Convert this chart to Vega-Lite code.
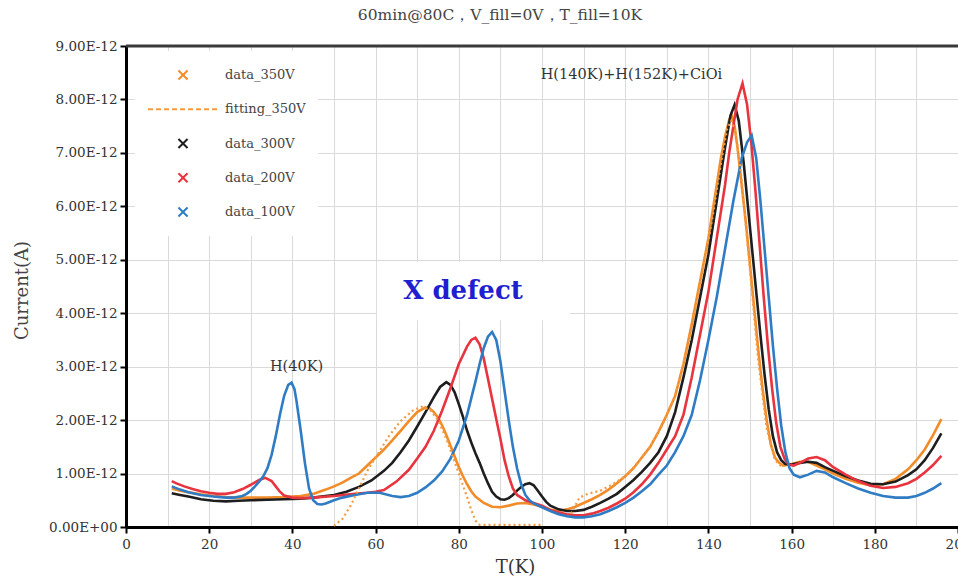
{
  "$schema": "https://vega.github.io/schema/vega-lite/v6.json",
  "width": 832,
  "height": 481,
  "autosize": {"type": "none"},
  "padding": {"left": 126, "top": 46, "right": 0, "bottom": 50},
  "background": "white",
  "title": {
    "text": "60min@80C，V_fill=0V，T_fill=10K",
    "font": "DejaVu Serif",
    "fontSize": 15.5,
    "fontWeight": "normal",
    "color": "#444444",
    "anchor": "middle",
    "frame": "group",
    "dx": -42,
    "offset": 4,
    "baseline": "alphabetic"
  },
  "config": {"view": {"stroke": null}, "font": "DejaVu Serif"},
  "datasets": {
    "curves": [
      {"series": "data_350V", "T": 11, "I": 0.72e-12},
      {"series": "data_350V", "T": 13, "I": 0.68e-12},
      {"series": "data_350V", "T": 15, "I": 0.65e-12},
      {"series": "data_350V", "T": 18, "I": 0.61e-12},
      {"series": "data_350V", "T": 21, "I": 0.58e-12},
      {"series": "data_350V", "T": 24, "I": 0.56e-12},
      {"series": "data_350V", "T": 27, "I": 0.55e-12},
      {"series": "data_350V", "T": 30, "I": 0.55e-12},
      {"series": "data_350V", "T": 34, "I": 0.55e-12},
      {"series": "data_350V", "T": 38, "I": 0.56e-12},
      {"series": "data_350V", "T": 42, "I": 0.58e-12},
      {"series": "data_350V", "T": 45, "I": 0.62e-12},
      {"series": "data_350V", "T": 48, "I": 0.7e-12},
      {"series": "data_350V", "T": 50, "I": 0.76e-12},
      {"series": "data_350V", "T": 52, "I": 0.83e-12},
      {"series": "data_350V", "T": 54, "I": 0.92e-12},
      {"series": "data_350V", "T": 56, "I": 1.0e-12},
      {"series": "data_350V", "T": 58, "I": 1.15e-12},
      {"series": "data_350V", "T": 60, "I": 1.3e-12},
      {"series": "data_350V", "T": 62, "I": 1.45e-12},
      {"series": "data_350V", "T": 64, "I": 1.62e-12},
      {"series": "data_350V", "T": 66, "I": 1.8e-12},
      {"series": "data_350V", "T": 68, "I": 1.98e-12},
      {"series": "data_350V", "T": 70, "I": 2.15e-12},
      {"series": "data_350V", "T": 72, "I": 2.24e-12},
      {"series": "data_350V", "T": 73, "I": 2.22e-12},
      {"series": "data_350V", "T": 74, "I": 2.15e-12},
      {"series": "data_350V", "T": 75, "I": 2.05e-12},
      {"series": "data_350V", "T": 76, "I": 1.9e-12},
      {"series": "data_350V", "T": 77, "I": 1.72e-12},
      {"series": "data_350V", "T": 78, "I": 1.52e-12},
      {"series": "data_350V", "T": 79, "I": 1.32e-12},
      {"series": "data_350V", "T": 80, "I": 1.12e-12},
      {"series": "data_350V", "T": 81, "I": 0.95e-12},
      {"series": "data_350V", "T": 82, "I": 0.8e-12},
      {"series": "data_350V", "T": 83, "I": 0.67e-12},
      {"series": "data_350V", "T": 84, "I": 0.57e-12},
      {"series": "data_350V", "T": 86, "I": 0.45e-12},
      {"series": "data_350V", "T": 88, "I": 0.38e-12},
      {"series": "data_350V", "T": 90, "I": 0.37e-12},
      {"series": "data_350V", "T": 92, "I": 0.4e-12},
      {"series": "data_350V", "T": 94, "I": 0.44e-12},
      {"series": "data_350V", "T": 96, "I": 0.45e-12},
      {"series": "data_350V", "T": 98, "I": 0.42e-12},
      {"series": "data_350V", "T": 100, "I": 0.38e-12},
      {"series": "data_350V", "T": 102, "I": 0.32e-12},
      {"series": "data_350V", "T": 104, "I": 0.3e-12},
      {"series": "data_350V", "T": 106, "I": 0.33e-12},
      {"series": "data_350V", "T": 108, "I": 0.38e-12},
      {"series": "data_350V", "T": 110, "I": 0.45e-12},
      {"series": "data_350V", "T": 112, "I": 0.52e-12},
      {"series": "data_350V", "T": 114, "I": 0.6e-12},
      {"series": "data_350V", "T": 116, "I": 0.7e-12},
      {"series": "data_350V", "T": 118, "I": 0.82e-12},
      {"series": "data_350V", "T": 120, "I": 0.95e-12},
      {"series": "data_350V", "T": 122, "I": 1.1e-12},
      {"series": "data_350V", "T": 124, "I": 1.3e-12},
      {"series": "data_350V", "T": 126, "I": 1.5e-12},
      {"series": "data_350V", "T": 128, "I": 1.78e-12},
      {"series": "data_350V", "T": 130, "I": 2.1e-12},
      {"series": "data_350V", "T": 132, "I": 2.45e-12},
      {"series": "data_350V", "T": 134, "I": 3.05e-12},
      {"series": "data_350V", "T": 136, "I": 3.8e-12},
      {"series": "data_350V", "T": 138, "I": 4.6e-12},
      {"series": "data_350V", "T": 140, "I": 5.4e-12},
      {"series": "data_350V", "T": 142, "I": 6.4e-12},
      {"series": "data_350V", "T": 143, "I": 6.9e-12},
      {"series": "data_350V", "T": 144, "I": 7.3e-12},
      {"series": "data_350V", "T": 145, "I": 7.62e-12},
      {"series": "data_350V", "T": 145.6, "I": 7.7e-12},
      {"series": "data_350V", "T": 146.3, "I": 7.5e-12},
      {"series": "data_350V", "T": 147, "I": 7.1e-12},
      {"series": "data_350V", "T": 148, "I": 6.4e-12},
      {"series": "data_350V", "T": 149, "I": 5.7e-12},
      {"series": "data_350V", "T": 150, "I": 4.9e-12},
      {"series": "data_350V", "T": 151, "I": 4.1e-12},
      {"series": "data_350V", "T": 152, "I": 3.3e-12},
      {"series": "data_350V", "T": 153, "I": 2.6e-12},
      {"series": "data_350V", "T": 154, "I": 2.0e-12},
      {"series": "data_350V", "T": 155, "I": 1.55e-12},
      {"series": "data_350V", "T": 156, "I": 1.3e-12},
      {"series": "data_350V", "T": 157, "I": 1.2e-12},
      {"series": "data_350V", "T": 158, "I": 1.15e-12},
      {"series": "data_350V", "T": 160, "I": 1.18e-12},
      {"series": "data_350V", "T": 162, "I": 1.22e-12},
      {"series": "data_350V", "T": 164, "I": 1.22e-12},
      {"series": "data_350V", "T": 166, "I": 1.15e-12},
      {"series": "data_350V", "T": 168, "I": 1.08e-12},
      {"series": "data_350V", "T": 170, "I": 1.0e-12},
      {"series": "data_350V", "T": 173, "I": 0.9e-12},
      {"series": "data_350V", "T": 176, "I": 0.83e-12},
      {"series": "data_350V", "T": 179, "I": 0.78e-12},
      {"series": "data_350V", "T": 182, "I": 0.8e-12},
      {"series": "data_350V", "T": 185, "I": 0.9e-12},
      {"series": "data_350V", "T": 188, "I": 1.08e-12},
      {"series": "data_350V", "T": 190, "I": 1.25e-12},
      {"series": "data_350V", "T": 192, "I": 1.45e-12},
      {"series": "data_350V", "T": 194, "I": 1.72e-12},
      {"series": "data_350V", "T": 196, "I": 2.02e-12},

      {"series": "data_300V", "T": 11, "I": 0.63e-12},
      {"series": "data_300V", "T": 13, "I": 0.6e-12},
      {"series": "data_300V", "T": 15, "I": 0.57e-12},
      {"series": "data_300V", "T": 18, "I": 0.52e-12},
      {"series": "data_300V", "T": 21, "I": 0.49e-12},
      {"series": "data_300V", "T": 24, "I": 0.48e-12},
      {"series": "data_300V", "T": 27, "I": 0.49e-12},
      {"series": "data_300V", "T": 30, "I": 0.5e-12},
      {"series": "data_300V", "T": 34, "I": 0.51e-12},
      {"series": "data_300V", "T": 38, "I": 0.52e-12},
      {"series": "data_300V", "T": 42, "I": 0.53e-12},
      {"series": "data_300V", "T": 45, "I": 0.55e-12},
      {"series": "data_300V", "T": 48, "I": 0.58e-12},
      {"series": "data_300V", "T": 50, "I": 0.6e-12},
      {"series": "data_300V", "T": 53, "I": 0.66e-12},
      {"series": "data_300V", "T": 56, "I": 0.75e-12},
      {"series": "data_300V", "T": 59, "I": 0.87e-12},
      {"series": "data_300V", "T": 62, "I": 1.05e-12},
      {"series": "data_300V", "T": 64, "I": 1.2e-12},
      {"series": "data_300V", "T": 66, "I": 1.4e-12},
      {"series": "data_300V", "T": 68, "I": 1.62e-12},
      {"series": "data_300V", "T": 70, "I": 1.88e-12},
      {"series": "data_300V", "T": 72, "I": 2.15e-12},
      {"series": "data_300V", "T": 74, "I": 2.43e-12},
      {"series": "data_300V", "T": 75.5, "I": 2.62e-12},
      {"series": "data_300V", "T": 77, "I": 2.71e-12},
      {"series": "data_300V", "T": 78, "I": 2.66e-12},
      {"series": "data_300V", "T": 79, "I": 2.52e-12},
      {"series": "data_300V", "T": 80, "I": 2.3e-12},
      {"series": "data_300V", "T": 81, "I": 2.06e-12},
      {"series": "data_300V", "T": 82, "I": 1.8e-12},
      {"series": "data_300V", "T": 83, "I": 1.58e-12},
      {"series": "data_300V", "T": 84, "I": 1.38e-12},
      {"series": "data_300V", "T": 85, "I": 1.2e-12},
      {"series": "data_300V", "T": 86, "I": 1.0e-12},
      {"series": "data_300V", "T": 87, "I": 0.82e-12},
      {"series": "data_300V", "T": 88, "I": 0.66e-12},
      {"series": "data_300V", "T": 89, "I": 0.57e-12},
      {"series": "data_300V", "T": 90, "I": 0.52e-12},
      {"series": "data_300V", "T": 91, "I": 0.51e-12},
      {"series": "data_300V", "T": 92, "I": 0.54e-12},
      {"series": "data_300V", "T": 93, "I": 0.6e-12},
      {"series": "data_300V", "T": 94, "I": 0.68e-12},
      {"series": "data_300V", "T": 95, "I": 0.75e-12},
      {"series": "data_300V", "T": 96, "I": 0.8e-12},
      {"series": "data_300V", "T": 97, "I": 0.82e-12},
      {"series": "data_300V", "T": 98, "I": 0.78e-12},
      {"series": "data_300V", "T": 99, "I": 0.68e-12},
      {"series": "data_300V", "T": 100, "I": 0.57e-12},
      {"series": "data_300V", "T": 101, "I": 0.47e-12},
      {"series": "data_300V", "T": 102, "I": 0.4e-12},
      {"series": "data_300V", "T": 104, "I": 0.33e-12},
      {"series": "data_300V", "T": 106, "I": 0.3e-12},
      {"series": "data_300V", "T": 108, "I": 0.3e-12},
      {"series": "data_300V", "T": 110, "I": 0.32e-12},
      {"series": "data_300V", "T": 112, "I": 0.38e-12},
      {"series": "data_300V", "T": 114, "I": 0.45e-12},
      {"series": "data_300V", "T": 116, "I": 0.53e-12},
      {"series": "data_300V", "T": 118, "I": 0.62e-12},
      {"series": "data_300V", "T": 120, "I": 0.75e-12},
      {"series": "data_300V", "T": 122, "I": 0.88e-12},
      {"series": "data_300V", "T": 124, "I": 1.03e-12},
      {"series": "data_300V", "T": 126, "I": 1.2e-12},
      {"series": "data_300V", "T": 128, "I": 1.4e-12},
      {"series": "data_300V", "T": 130, "I": 1.7e-12},
      {"series": "data_300V", "T": 132, "I": 2.15e-12},
      {"series": "data_300V", "T": 134, "I": 2.8e-12},
      {"series": "data_300V", "T": 136, "I": 3.5e-12},
      {"series": "data_300V", "T": 138, "I": 4.3e-12},
      {"series": "data_300V", "T": 140, "I": 5.1e-12},
      {"series": "data_300V", "T": 142, "I": 6.1e-12},
      {"series": "data_300V", "T": 144, "I": 7.1e-12},
      {"series": "data_300V", "T": 145.3, "I": 7.7e-12},
      {"series": "data_300V", "T": 146.3, "I": 7.9e-12},
      {"series": "data_300V", "T": 147.3, "I": 7.6e-12},
      {"series": "data_300V", "T": 148.5, "I": 6.8e-12},
      {"series": "data_300V", "T": 149.5, "I": 6.0e-12},
      {"series": "data_300V", "T": 150.5, "I": 5.2e-12},
      {"series": "data_300V", "T": 151.5, "I": 4.4e-12},
      {"series": "data_300V", "T": 152.5, "I": 3.6e-12},
      {"series": "data_300V", "T": 153.5, "I": 2.85e-12},
      {"series": "data_300V", "T": 154.5, "I": 2.2e-12},
      {"series": "data_300V", "T": 155.5, "I": 1.7e-12},
      {"series": "data_300V", "T": 156.5, "I": 1.4e-12},
      {"series": "data_300V", "T": 157.5, "I": 1.25e-12},
      {"series": "data_300V", "T": 158.5, "I": 1.18e-12},
      {"series": "data_300V", "T": 160, "I": 1.17e-12},
      {"series": "data_300V", "T": 162, "I": 1.2e-12},
      {"series": "data_300V", "T": 164, "I": 1.22e-12},
      {"series": "data_300V", "T": 166, "I": 1.2e-12},
      {"series": "data_300V", "T": 168, "I": 1.12e-12},
      {"series": "data_300V", "T": 170, "I": 1.05e-12},
      {"series": "data_300V", "T": 173, "I": 0.95e-12},
      {"series": "data_300V", "T": 176, "I": 0.87e-12},
      {"series": "data_300V", "T": 179, "I": 0.81e-12},
      {"series": "data_300V", "T": 182, "I": 0.8e-12},
      {"series": "data_300V", "T": 185, "I": 0.85e-12},
      {"series": "data_300V", "T": 188, "I": 0.97e-12},
      {"series": "data_300V", "T": 190, "I": 1.08e-12},
      {"series": "data_300V", "T": 192, "I": 1.25e-12},
      {"series": "data_300V", "T": 194, "I": 1.48e-12},
      {"series": "data_300V", "T": 196, "I": 1.75e-12},

      {"series": "data_200V", "T": 11, "I": 0.86e-12},
      {"series": "data_200V", "T": 12, "I": 0.82e-12},
      {"series": "data_200V", "T": 14, "I": 0.76e-12},
      {"series": "data_200V", "T": 16, "I": 0.71e-12},
      {"series": "data_200V", "T": 18, "I": 0.67e-12},
      {"series": "data_200V", "T": 20, "I": 0.64e-12},
      {"series": "data_200V", "T": 22, "I": 0.62e-12},
      {"series": "data_200V", "T": 24, "I": 0.62e-12},
      {"series": "data_200V", "T": 26, "I": 0.65e-12},
      {"series": "data_200V", "T": 28, "I": 0.71e-12},
      {"series": "data_200V", "T": 30, "I": 0.79e-12},
      {"series": "data_200V", "T": 32, "I": 0.88e-12},
      {"series": "data_200V", "T": 33.5, "I": 0.92e-12},
      {"series": "data_200V", "T": 35, "I": 0.86e-12},
      {"series": "data_200V", "T": 36, "I": 0.76e-12},
      {"series": "data_200V", "T": 37, "I": 0.66e-12},
      {"series": "data_200V", "T": 38, "I": 0.59e-12},
      {"series": "data_200V", "T": 40, "I": 0.55e-12},
      {"series": "data_200V", "T": 42, "I": 0.54e-12},
      {"series": "data_200V", "T": 45, "I": 0.55e-12},
      {"series": "data_200V", "T": 50, "I": 0.58e-12},
      {"series": "data_200V", "T": 55, "I": 0.62e-12},
      {"series": "data_200V", "T": 58, "I": 0.64e-12},
      {"series": "data_200V", "T": 60, "I": 0.66e-12},
      {"series": "data_200V", "T": 62, "I": 0.69e-12},
      {"series": "data_200V", "T": 65, "I": 0.85e-12},
      {"series": "data_200V", "T": 68, "I": 1.07e-12},
      {"series": "data_200V", "T": 70, "I": 1.28e-12},
      {"series": "data_200V", "T": 72, "I": 1.5e-12},
      {"series": "data_200V", "T": 74, "I": 1.8e-12},
      {"series": "data_200V", "T": 76, "I": 2.18e-12},
      {"series": "data_200V", "T": 78, "I": 2.6e-12},
      {"series": "data_200V", "T": 80, "I": 3.05e-12},
      {"series": "data_200V", "T": 82, "I": 3.38e-12},
      {"series": "data_200V", "T": 83, "I": 3.5e-12},
      {"series": "data_200V", "T": 84, "I": 3.54e-12},
      {"series": "data_200V", "T": 85, "I": 3.42e-12},
      {"series": "data_200V", "T": 86, "I": 3.15e-12},
      {"series": "data_200V", "T": 87, "I": 2.78e-12},
      {"series": "data_200V", "T": 88, "I": 2.4e-12},
      {"series": "data_200V", "T": 89, "I": 2.02e-12},
      {"series": "data_200V", "T": 90, "I": 1.65e-12},
      {"series": "data_200V", "T": 91, "I": 1.25e-12},
      {"series": "data_200V", "T": 92, "I": 0.95e-12},
      {"series": "data_200V", "T": 93, "I": 0.72e-12},
      {"series": "data_200V", "T": 94, "I": 0.6e-12},
      {"series": "data_200V", "T": 96, "I": 0.5e-12},
      {"series": "data_200V", "T": 98, "I": 0.45e-12},
      {"series": "data_200V", "T": 100, "I": 0.4e-12},
      {"series": "data_200V", "T": 102, "I": 0.32e-12},
      {"series": "data_200V", "T": 104, "I": 0.27e-12},
      {"series": "data_200V", "T": 106, "I": 0.24e-12},
      {"series": "data_200V", "T": 108, "I": 0.22e-12},
      {"series": "data_200V", "T": 110, "I": 0.22e-12},
      {"series": "data_200V", "T": 112, "I": 0.25e-12},
      {"series": "data_200V", "T": 114, "I": 0.3e-12},
      {"series": "data_200V", "T": 116, "I": 0.36e-12},
      {"series": "data_200V", "T": 118, "I": 0.44e-12},
      {"series": "data_200V", "T": 120, "I": 0.53e-12},
      {"series": "data_200V", "T": 122, "I": 0.65e-12},
      {"series": "data_200V", "T": 124, "I": 0.8e-12},
      {"series": "data_200V", "T": 126, "I": 0.98e-12},
      {"series": "data_200V", "T": 128, "I": 1.2e-12},
      {"series": "data_200V", "T": 130, "I": 1.45e-12},
      {"series": "data_200V", "T": 132, "I": 1.7e-12},
      {"series": "data_200V", "T": 134, "I": 2.1e-12},
      {"series": "data_200V", "T": 136, "I": 2.8e-12},
      {"series": "data_200V", "T": 138, "I": 3.6e-12},
      {"series": "data_200V", "T": 140, "I": 4.4e-12},
      {"series": "data_200V", "T": 142, "I": 5.4e-12},
      {"series": "data_200V", "T": 144, "I": 6.4e-12},
      {"series": "data_200V", "T": 145, "I": 7.0e-12},
      {"series": "data_200V", "T": 146, "I": 7.5e-12},
      {"series": "data_200V", "T": 147, "I": 8.0e-12},
      {"series": "data_200V", "T": 148.2, "I": 8.3e-12},
      {"series": "data_200V", "T": 149.3, "I": 7.9e-12},
      {"series": "data_200V", "T": 150.3, "I": 7.2e-12},
      {"series": "data_200V", "T": 151.3, "I": 6.3e-12},
      {"series": "data_200V", "T": 152.3, "I": 5.3e-12},
      {"series": "data_200V", "T": 153.3, "I": 4.3e-12},
      {"series": "data_200V", "T": 154.3, "I": 3.4e-12},
      {"series": "data_200V", "T": 155.3, "I": 2.6e-12},
      {"series": "data_200V", "T": 156.3, "I": 1.95e-12},
      {"series": "data_200V", "T": 157.3, "I": 1.5e-12},
      {"series": "data_200V", "T": 158.3, "I": 1.28e-12},
      {"series": "data_200V", "T": 159.3, "I": 1.17e-12},
      {"series": "data_200V", "T": 160.5, "I": 1.15e-12},
      {"series": "data_200V", "T": 162, "I": 1.2e-12},
      {"series": "data_200V", "T": 164, "I": 1.28e-12},
      {"series": "data_200V", "T": 166, "I": 1.31e-12},
      {"series": "data_200V", "T": 168, "I": 1.25e-12},
      {"series": "data_200V", "T": 170, "I": 1.12e-12},
      {"series": "data_200V", "T": 173, "I": 0.98e-12},
      {"series": "data_200V", "T": 176, "I": 0.86e-12},
      {"series": "data_200V", "T": 179, "I": 0.77e-12},
      {"series": "data_200V", "T": 182, "I": 0.73e-12},
      {"series": "data_200V", "T": 185, "I": 0.75e-12},
      {"series": "data_200V", "T": 188, "I": 0.82e-12},
      {"series": "data_200V", "T": 190, "I": 0.9e-12},
      {"series": "data_200V", "T": 192, "I": 1.02e-12},
      {"series": "data_200V", "T": 194, "I": 1.16e-12},
      {"series": "data_200V", "T": 196, "I": 1.33e-12},

      {"series": "data_100V", "T": 11, "I": 0.76e-12},
      {"series": "data_100V", "T": 13, "I": 0.7e-12},
      {"series": "data_100V", "T": 15, "I": 0.65e-12},
      {"series": "data_100V", "T": 18, "I": 0.6e-12},
      {"series": "data_100V", "T": 21, "I": 0.57e-12},
      {"series": "data_100V", "T": 24, "I": 0.55e-12},
      {"series": "data_100V", "T": 26, "I": 0.55e-12},
      {"series": "data_100V", "T": 28, "I": 0.58e-12},
      {"series": "data_100V", "T": 29, "I": 0.62e-12},
      {"series": "data_100V", "T": 30, "I": 0.68e-12},
      {"series": "data_100V", "T": 31, "I": 0.76e-12},
      {"series": "data_100V", "T": 32, "I": 0.85e-12},
      {"series": "data_100V", "T": 33, "I": 0.95e-12},
      {"series": "data_100V", "T": 34, "I": 1.1e-12},
      {"series": "data_100V", "T": 35, "I": 1.35e-12},
      {"series": "data_100V", "T": 36, "I": 1.7e-12},
      {"series": "data_100V", "T": 37, "I": 2.1e-12},
      {"series": "data_100V", "T": 38, "I": 2.45e-12},
      {"series": "data_100V", "T": 39, "I": 2.66e-12},
      {"series": "data_100V", "T": 39.8, "I": 2.7e-12},
      {"series": "data_100V", "T": 40.5, "I": 2.58e-12},
      {"series": "data_100V", "T": 41, "I": 2.35e-12},
      {"series": "data_100V", "T": 42, "I": 1.8e-12},
      {"series": "data_100V", "T": 43, "I": 1.2e-12},
      {"series": "data_100V", "T": 44, "I": 0.72e-12},
      {"series": "data_100V", "T": 45, "I": 0.5e-12},
      {"series": "data_100V", "T": 46, "I": 0.43e-12},
      {"series": "data_100V", "T": 47, "I": 0.42e-12},
      {"series": "data_100V", "T": 48, "I": 0.44e-12},
      {"series": "data_100V", "T": 50, "I": 0.5e-12},
      {"series": "data_100V", "T": 52, "I": 0.55e-12},
      {"series": "data_100V", "T": 55, "I": 0.6e-12},
      {"series": "data_100V", "T": 58, "I": 0.64e-12},
      {"series": "data_100V", "T": 61, "I": 0.64e-12},
      {"series": "data_100V", "T": 64, "I": 0.58e-12},
      {"series": "data_100V", "T": 66, "I": 0.56e-12},
      {"series": "data_100V", "T": 68, "I": 0.58e-12},
      {"series": "data_100V", "T": 70, "I": 0.64e-12},
      {"series": "data_100V", "T": 72, "I": 0.74e-12},
      {"series": "data_100V", "T": 74, "I": 0.87e-12},
      {"series": "data_100V", "T": 76, "I": 1.04e-12},
      {"series": "data_100V", "T": 78, "I": 1.28e-12},
      {"series": "data_100V", "T": 80, "I": 1.62e-12},
      {"series": "data_100V", "T": 82, "I": 2.1e-12},
      {"series": "data_100V", "T": 84, "I": 2.72e-12},
      {"series": "data_100V", "T": 85, "I": 3.05e-12},
      {"series": "data_100V", "T": 86, "I": 3.35e-12},
      {"series": "data_100V", "T": 87, "I": 3.56e-12},
      {"series": "data_100V", "T": 88, "I": 3.65e-12},
      {"series": "data_100V", "T": 89, "I": 3.5e-12},
      {"series": "data_100V", "T": 90, "I": 3.1e-12},
      {"series": "data_100V", "T": 91, "I": 2.55e-12},
      {"series": "data_100V", "T": 92, "I": 2.0e-12},
      {"series": "data_100V", "T": 93, "I": 1.5e-12},
      {"series": "data_100V", "T": 94, "I": 1.1e-12},
      {"series": "data_100V", "T": 95, "I": 0.8e-12},
      {"series": "data_100V", "T": 96, "I": 0.6e-12},
      {"series": "data_100V", "T": 97, "I": 0.5e-12},
      {"series": "data_100V", "T": 98, "I": 0.44e-12},
      {"series": "data_100V", "T": 100, "I": 0.37e-12},
      {"series": "data_100V", "T": 102, "I": 0.3e-12},
      {"series": "data_100V", "T": 104, "I": 0.24e-12},
      {"series": "data_100V", "T": 106, "I": 0.2e-12},
      {"series": "data_100V", "T": 108, "I": 0.18e-12},
      {"series": "data_100V", "T": 110, "I": 0.18e-12},
      {"series": "data_100V", "T": 112, "I": 0.2e-12},
      {"series": "data_100V", "T": 114, "I": 0.24e-12},
      {"series": "data_100V", "T": 116, "I": 0.3e-12},
      {"series": "data_100V", "T": 118, "I": 0.37e-12},
      {"series": "data_100V", "T": 120, "I": 0.45e-12},
      {"series": "data_100V", "T": 122, "I": 0.55e-12},
      {"series": "data_100V", "T": 124, "I": 0.67e-12},
      {"series": "data_100V", "T": 126, "I": 0.8e-12},
      {"series": "data_100V", "T": 128, "I": 0.98e-12},
      {"series": "data_100V", "T": 130, "I": 1.15e-12},
      {"series": "data_100V", "T": 132, "I": 1.4e-12},
      {"series": "data_100V", "T": 134, "I": 1.7e-12},
      {"series": "data_100V", "T": 136, "I": 2.1e-12},
      {"series": "data_100V", "T": 138, "I": 2.75e-12},
      {"series": "data_100V", "T": 140, "I": 3.5e-12},
      {"series": "data_100V", "T": 142, "I": 4.3e-12},
      {"series": "data_100V", "T": 144, "I": 5.2e-12},
      {"series": "data_100V", "T": 146, "I": 6.1e-12},
      {"series": "data_100V", "T": 148, "I": 6.9e-12},
      {"series": "data_100V", "T": 149.3, "I": 7.2e-12},
      {"series": "data_100V", "T": 150.4, "I": 7.33e-12},
      {"series": "data_100V", "T": 151.5, "I": 6.9e-12},
      {"series": "data_100V", "T": 152.5, "I": 6.1e-12},
      {"series": "data_100V", "T": 153.5, "I": 5.2e-12},
      {"series": "data_100V", "T": 154.5, "I": 4.3e-12},
      {"series": "data_100V", "T": 155.5, "I": 3.4e-12},
      {"series": "data_100V", "T": 156.5, "I": 2.6e-12},
      {"series": "data_100V", "T": 157.5, "I": 1.9e-12},
      {"series": "data_100V", "T": 158.5, "I": 1.4e-12},
      {"series": "data_100V", "T": 159.5, "I": 1.1e-12},
      {"series": "data_100V", "T": 160.5, "I": 0.98e-12},
      {"series": "data_100V", "T": 162, "I": 0.93e-12},
      {"series": "data_100V", "T": 164, "I": 0.98e-12},
      {"series": "data_100V", "T": 166, "I": 1.05e-12},
      {"series": "data_100V", "T": 168, "I": 1.02e-12},
      {"series": "data_100V", "T": 170, "I": 0.93e-12},
      {"series": "data_100V", "T": 173, "I": 0.82e-12},
      {"series": "data_100V", "T": 176, "I": 0.72e-12},
      {"series": "data_100V", "T": 179, "I": 0.64e-12},
      {"series": "data_100V", "T": 182, "I": 0.58e-12},
      {"series": "data_100V", "T": 185, "I": 0.55e-12},
      {"series": "data_100V", "T": 188, "I": 0.55e-12},
      {"series": "data_100V", "T": 190, "I": 0.58e-12},
      {"series": "data_100V", "T": 192, "I": 0.64e-12},
      {"series": "data_100V", "T": 194, "I": 0.72e-12},
      {"series": "data_100V", "T": 196, "I": 0.82e-12},

      {"series": "fitting_350V", "component": "A", "T": 50, "I": 0.02e-12},
      {"series": "fitting_350V", "component": "A", "T": 52, "I": 0.15e-12},
      {"series": "fitting_350V", "component": "A", "T": 54, "I": 0.4e-12},
      {"series": "fitting_350V", "component": "A", "T": 56, "I": 0.72e-12},
      {"series": "fitting_350V", "component": "A", "T": 58, "I": 1.05e-12},
      {"series": "fitting_350V", "component": "A", "T": 60, "I": 1.3e-12},
      {"series": "fitting_350V", "component": "A", "T": 63, "I": 1.68e-12},
      {"series": "fitting_350V", "component": "A", "T": 66, "I": 1.98e-12},
      {"series": "fitting_350V", "component": "A", "T": 69, "I": 2.18e-12},
      {"series": "fitting_350V", "component": "A", "T": 71, "I": 2.25e-12},
      {"series": "fitting_350V", "component": "A", "T": 73, "I": 2.2e-12},
      {"series": "fitting_350V", "component": "A", "T": 75, "I": 2.0e-12},
      {"series": "fitting_350V", "component": "A", "T": 77, "I": 1.65e-12},
      {"series": "fitting_350V", "component": "A", "T": 79, "I": 1.22e-12},
      {"series": "fitting_350V", "component": "A", "T": 80, "I": 1.0e-12},
      {"series": "fitting_350V", "component": "A", "T": 81, "I": 0.78e-12},
      {"series": "fitting_350V", "component": "A", "T": 82, "I": 0.56e-12},
      {"series": "fitting_350V", "component": "A", "T": 83, "I": 0.32e-12},
      {"series": "fitting_350V", "component": "A", "T": 84, "I": 0.12e-12},
      {"series": "fitting_350V", "component": "A", "T": 85, "I": 0.04e-12},
      {"series": "fitting_350V", "component": "A", "T": 86, "I": 0.04e-12},
      {"series": "fitting_350V", "component": "A", "T": 100, "I": 0.04e-12},
      {"series": "fitting_350V", "component": "B", "T": 107, "I": 0.25e-12},
      {"series": "fitting_350V", "component": "B", "T": 109, "I": 0.55e-12},
      {"series": "fitting_350V", "component": "B", "T": 111, "I": 0.62e-12},
      {"series": "fitting_350V", "component": "B", "T": 114, "I": 0.68e-12},
      {"series": "fitting_350V", "component": "B", "T": 117, "I": 0.8e-12},
      {"series": "fitting_350V", "component": "B", "T": 120, "I": 0.95e-12},
      {"series": "fitting_350V", "component": "B", "T": 123, "I": 1.2e-12},
      {"series": "fitting_350V", "component": "B", "T": 126, "I": 1.5e-12},
      {"series": "fitting_350V", "component": "B", "T": 129, "I": 1.92e-12},
      {"series": "fitting_350V", "component": "B", "T": 132, "I": 2.45e-12},
      {"series": "fitting_350V", "component": "B", "T": 135, "I": 3.35e-12},
      {"series": "fitting_350V", "component": "B", "T": 138, "I": 4.5e-12},
      {"series": "fitting_350V", "component": "B", "T": 141, "I": 5.8e-12},
      {"series": "fitting_350V", "component": "B", "T": 143, "I": 6.8e-12},
      {"series": "fitting_350V", "component": "B", "T": 144.5, "I": 7.45e-12},
      {"series": "fitting_350V", "component": "B", "T": 145.5, "I": 7.6e-12},
      {"series": "fitting_350V", "component": "B", "T": 146.5, "I": 7.4e-12},
      {"series": "fitting_350V", "component": "B", "T": 148, "I": 6.5e-12},
      {"series": "fitting_350V", "component": "B", "T": 150, "I": 4.8e-12},
      {"series": "fitting_350V", "component": "B", "T": 152, "I": 3.1e-12},
      {"series": "fitting_350V", "component": "B", "T": 154, "I": 1.85e-12},
      {"series": "fitting_350V", "component": "B", "T": 156, "I": 1.25e-12},
      {"series": "fitting_350V", "component": "B", "T": 158, "I": 1.1e-12}
    ],
    "notes": [
      {"label": "H(40K)", "T": 41, "I": 3.0e-12},
      {"label": "H(140K)+H(152K)+CiOi", "T": 121.5, "I": 8.46e-12},
      {"label": "X defect", "T": 81, "I": 4.42e-12}
    ]
  },
  "layer": [
    {
      "description": "measured TSC spectra, with the shared axes and the legend",
      "data": {"name": "curves"},
      "transform": [{"filter": "datum.series != 'fitting_350V'"}],
      "mark": {"type": "line", "strokeWidth": 2.6},
      "encoding": {
        "x": {
          "field": "T",
          "type": "quantitative",
          "scale": {"domain": [0, 200], "nice": false, "zero": false},
          "axis": {
            "title": "T(K)",
            "values": [0, 10, 20, 30, 40, 50, 60, 70, 80, 90, 100, 110, 120, 130, 140, 150, 160, 170, 180, 190, 200],
            "labelExpr": "datum.value % 20 == 0 ? datum.label : ''",
            "grid": true,
            "gridColor": "#dadada",
            "gridWidth": 1,
            "domainColor": "#000000",
            "domainWidth": 3,
            "tickColor": "#000000",
            "tickWidth": 2,
            "tickSize": 6,
            "tickOpacity": {"condition": {"test": "datum.value % 20 == 0", "value": 1}, "value": 0},
            "labelFont": "DejaVu Serif",
            "labelFontSize": 13.5,
            "labelColor": "#333333",
            "labelPadding": 4,
            "labelOverlap": false,
            "labelFlush": false,
            "labelBound": false,
            "titleFont": "DejaVu Serif",
            "titleFontSize": 18,
            "titleFontWeight": "normal",
            "titleColor": "#333333",
            "titleX": 389,
            "titleY": 40,
            "titleBaseline": "middle",
            "titleAlign": "center"
          }
        },
        "y": {
          "field": "I",
          "type": "quantitative",
          "scale": {"domain": [0, 9e-12], "nice": false, "zero": true},
          "axis": {
            "title": "Current(A)",
            "values": [0, 0.5e-12, 1e-12, 1.5e-12, 2e-12, 2.5e-12, 3e-12, 3.5e-12, 4e-12, 4.5e-12, 5e-12, 5.5e-12, 6e-12, 6.5e-12, 7e-12, 7.5e-12, 8e-12, 8.5e-12, 9e-12],
            "labelExpr": "datum.value == 0 ? '0.00E+00' : (round(datum.value * 1e13) % 10 == 0 ? format(datum.value * 1e12, '.2f') + 'E-12' : '')",
            "grid": true,
            "gridColor": "#dadada",
            "gridWidth": 1,
            "domainColor": "#000000",
            "domainWidth": 3,
            "tickColor": "#000000",
            "tickWidth": 2,
            "tickSize": 6,
            "tickOpacity": {"condition": {"test": "round(datum.value * 1e13) % 10 == 0", "value": 1}, "value": 0},
            "labelFont": "DejaVu Serif",
            "labelFontSize": 13.5,
            "labelColor": "#333333",
            "labelPadding": 3,
            "labelOverlap": false,
            "labelBound": false,
            "titleFont": "DejaVu Serif",
            "titleFontSize": 18,
            "titleFontWeight": "normal",
            "titleColor": "#444444",
            "titleX": -104,
            "titleY": 244,
            "titleBaseline": "middle",
            "titleAlign": "center"
          }
        },
        "color": {
          "field": "series",
          "type": "nominal",
          "scale": {
            "domain": ["data_350V", "fitting_350V", "data_300V", "data_200V", "data_100V"],
            "range": ["#f28c28", "#f39c45", "#1e1e1e", "#e8343e", "#2f7cc4"]
          },
          "legend": {
            "orient": "none",
            "legendX": 9,
            "legendY": 5,
            "title": null,
            "fillColor": "white",
            "padding": 12,
            "symbolType": {"expr": "datum.value == 'fitting_350V' ? 'M-1,0L-0.857,0M-0.771,0L-0.629,0M-0.543,0L-0.4,0M-0.314,0L-0.171,0M-0.086,0L0.057,0M0.143,0L0.286,0M0.371,0L0.514,0M0.6,0L0.743,0M0.829,0L0.971,0' : 'M-0.13,-0.13L0.13,0.13M-0.13,0.13L0.13,-0.13'"},
            "symbolSize": 4900,
            "symbolStrokeWidth": 2,
            "symbolOpacity": 1,
            "clipHeight": 24,
            "rowPadding": 10.25,
            "labelOffset": 6,
            "labelFont": "DejaVu Serif",
            "labelFontSize": 13,
            "labelColor": "#444444"
          }
        }
      }
    },
    {
      "description": "white panel behind the X defect label",
      "data": {"values": [{}]},
      "mark": {"type": "rect", "fill": "white"},
      "encoding": {
        "x": {"datum": 60.3, "type": "quantitative"},
        "x2": {"datum": 106.7},
        "y": {"datum": 3.87e-12, "type": "quantitative"},
        "y2": {"datum": 4.96e-12}
      }
    },
    {
      "description": "fitted curve of the 350 V scan",
      "data": {"name": "curves"},
      "transform": [{"filter": "datum.series == 'fitting_350V'"}],
      "mark": {"type": "line", "color": "#f39c45", "strokeWidth": 2.2, "strokeDash": [2, 3]},
      "encoding": {
        "x": {"field": "T", "type": "quantitative"},
        "y": {"field": "I", "type": "quantitative"},
        "detail": {"field": "component"}
      }
    },
    {
      "description": "upper frame line",
      "data": {"values": [{}]},
      "mark": {"type": "rule", "color": "#3a3a3a", "strokeWidth": 3},
      "encoding": {"y": {"datum": 9e-12, "type": "quantitative"}}
    },
    {
      "description": "peak labels",
      "data": {"name": "notes"},
      "transform": [{"filter": "datum.label != 'X defect'"}],
      "mark": {"type": "text", "font": "DejaVu Serif", "fontSize": 14.5, "color": "#333333", "baseline": "middle", "align": "center"},
      "encoding": {
        "x": {"field": "T", "type": "quantitative"},
        "y": {"field": "I", "type": "quantitative"},
        "text": {"field": "label"}
      }
    },
    {
      "description": "X defect label",
      "data": {"name": "notes"},
      "transform": [{"filter": "datum.label == 'X defect'"}],
      "mark": {"type": "text", "font": "DejaVu Serif", "fontSize": 26, "fontWeight": "bold", "color": "#1f1fd0", "baseline": "middle", "align": "center"},
      "encoding": {
        "x": {"field": "T", "type": "quantitative"},
        "y": {"field": "I", "type": "quantitative"},
        "text": {"field": "label"}
      }
    }
  ]
}
